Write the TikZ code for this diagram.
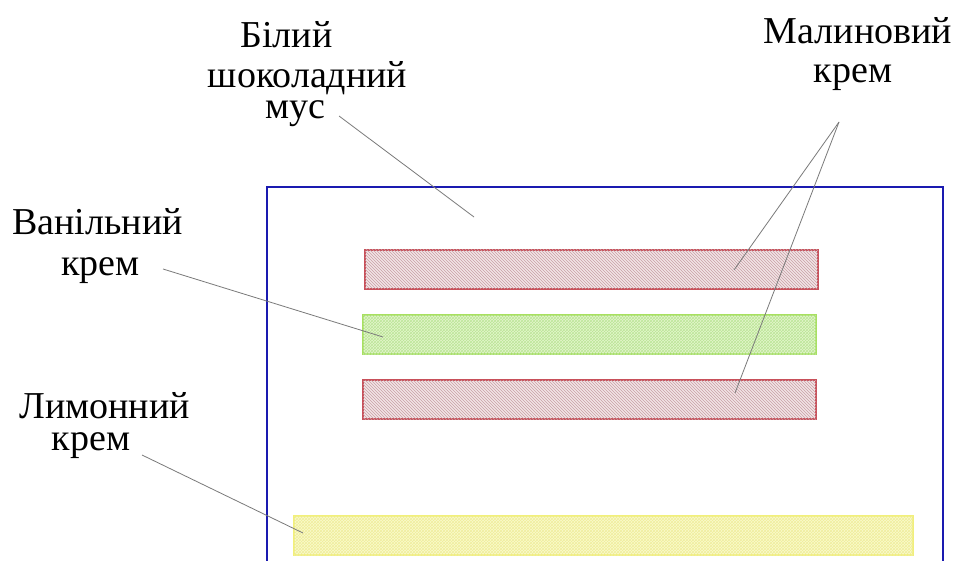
\documentclass[tikz,border=0pt]{standalone}
\usepackage{fontspec}
\setmainfont{Liberation Serif}
\usetikzlibrary{patterns}
\definecolor{frameblue}{HTML}{1A1AB0}
\definecolor{redline}{HTML}{C8505A}
\definecolor{redfill}{HTML}{F2E4E6}
\definecolor{redhatch}{HTML}{C9A0A6}
\definecolor{greenline}{HTML}{A8E060}
\definecolor{greenfill}{HTML}{E4F6CC}
\definecolor{greenhatch}{HTML}{BCE698}
\definecolor{yellowline}{HTML}{F2F07A}
\definecolor{yellowfill}{HTML}{FAFACC}
\definecolor{yellowhatch}{HTML}{F0EE9C}
\definecolor{leadergray}{HTML}{7A7A7A}
\tikzset{
  lbl/.style={anchor=base, inner sep=0pt, font=\fontsize{38}{42}\selectfont},
  bar/.style={draw, line width=1.3pt, minimum height=39pt, inner sep=0pt},
  redbar/.style={bar, draw=redline, fill=redfill, postaction={pattern=north west lines, pattern color=redhatch}},
  greenbar/.style={bar, draw=greenline, fill=greenfill, postaction={pattern=crosshatch, pattern color=greenhatch}},
  yellowbar/.style={bar, draw=yellowline, fill=yellowfill, postaction={pattern=crosshatch, pattern color=yellowhatch}},
  leader/.style={draw=leadergray, line width=0.8pt},
  frame/.style={draw=frameblue, line width=2.6pt}
}
\begin{document}
\begin{tikzpicture}[x=1pt, y=-1pt]
\useasboundingbox (0,0) rectangle (958,561);
\fill[white] (0,0) rectangle (958,561);
% frame
\draw[frame] (267,570) -- (267,187) -- (943,187) -- (943,570);
% bars
\node[redbar, minimum width=453pt] (r1) at (591.5,269.5) {};
\node[greenbar, minimum width=453pt] (g1) at (589.5,334.5) {};
\node[redbar, minimum width=453pt] (r2) at (589.5,399.5) {};
\node[yellowbar, minimum width=619pt] (y1) at (603.5,535.5) {};
% labels
\node[lbl] (bil1) at (286.5,48) {Білий};
\node[lbl] (bil2) at (307.5,88) {шоколадний};
\node[lbl] (bil3) at (295,119) {мус};
\node[lbl] (mal1) at (858,44) {Малиновий};
\node[lbl] (mal2) at (853,83) {крем};
\node[lbl] (van1) at (97.5,235) {Ванільний};
\node[lbl] (van2) at (100.5,276) {крем};
\node[lbl] (lym1) at (104.5,418) {Лимонний};
\node[lbl] (lym2) at (91,450) {крем};
% leader end points
\coordinate (musS) at (339,116);
\coordinate (musE) at (474,217);
\coordinate (vanS) at (163,269);
\coordinate (vanE) at (383,337);
\coordinate (lymS) at (142,455);
\coordinate (lymE) at (303,533);
\coordinate (malS) at (839,122);
\coordinate (malE1) at (734,270);
\coordinate (malE2) at (735,393);
% leaders
\draw[leader] (musS) -- (musE);
\draw[leader] (vanS) -- (vanE);
\draw[leader] (lymS) -- (lymE);
\draw[leader] (malS) -- (malE1);
\draw[leader] (malS) -- (malE2);
\end{tikzpicture}
\end{document}
